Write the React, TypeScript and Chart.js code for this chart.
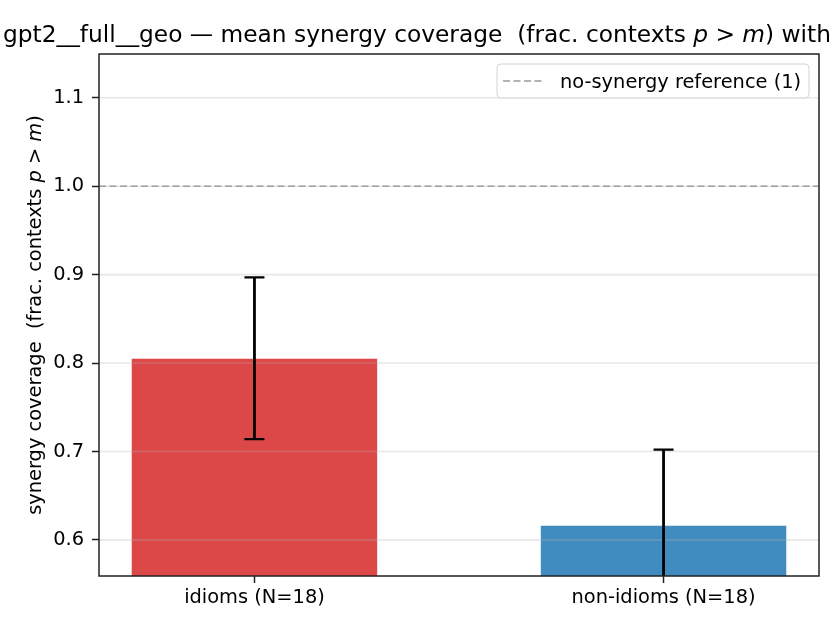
import { useEffect, useRef } from "react";
import { Chart, registerables } from "chart.js";

Chart.register(...registerables);

const categories = ["idioms (N=18)", "non-idioms (N=18)"];
const means = [0.805, 0.616];
const ciLow = [0.714, 0.53];
const ciHigh = [0.897, 0.702];
const barColors = ["rgba(214,39,40,0.85)", "rgba(31,119,180,0.85)"];
const refValue = 1;
const refLabel = "no-synergy reference (1)";
const yTicks = [0.6, 0.7, 0.8, 0.9, 1.0, 1.1];
const xRange = [-0.38, 1.38];
const yRange = [0.5592, 1.1495];

const FONT = '"DejaVu Sans", "Liberation Sans", sans-serif';
const LABEL_PX = 19.4;
const TITLE_PX = 23.3;

type Seg = { t: string; it?: boolean };

const titleSegs: Seg[] = [
  { t: "gpt2__full__geo \u2014 mean synergy coverage  (frac. contexts " },
  { t: "p", it: true },
  { t: " > " },
  { t: "m", it: true },
  { t: ") with 95% CI" },
];

const yLabelSegs: Seg[] = [
  { t: "synergy coverage  (frac. contexts " },
  { t: "p", it: true },
  { t: " > " },
  { t: "m", it: true },
  { t: ")" },
];

function richWidth(ctx: CanvasRenderingContext2D, segs: Seg[], px: number) {
  let w = 0;
  for (const s of segs) {
    ctx.font = `${s.it ? "italic " : ""}${px}px ${FONT}`;
    w += ctx.measureText(s.t).width;
  }
  return w;
}

function drawRich(ctx: CanvasRenderingContext2D, segs: Seg[], x: number, y: number, px: number) {
  let cx = x;
  for (const s of segs) {
    ctx.font = `${s.it ? "italic " : ""}${px}px ${FONT}`;
    ctx.fillText(s.t, cx, y);
    cx += ctx.measureText(s.t).width;
  }
}

export default function App() {
  const canvasRef = useRef<HTMLCanvasElement | null>(null);

  useEffect(() => {
    document.body.style.margin = "0";
    if (!canvasRef.current) return;

    const overlay = {
      id: "overlay",
      afterDatasetsDraw(chart: any) {
        const { ctx, chartArea: a, scales } = chart;
        const x = scales.x;
        const y = scales.y;

        ctx.save();
        ctx.beginPath();
        ctx.rect(a.left, a.top, a.right - a.left, a.bottom - a.top);
        ctx.clip();

        // grid on top of the bars, like the original
        ctx.strokeStyle = "rgba(176,176,176,0.3)";
        ctx.lineWidth = 1.6;
        yTicks.forEach((v) => {
          const py = y.getPixelForValue(v);
          ctx.beginPath();
          ctx.moveTo(a.left, py);
          ctx.lineTo(a.right, py);
          ctx.stroke();
        });

        // error bars
        ctx.strokeStyle = "#000";
        means.forEach((_, i) => {
          const px = x.getPixelForValue(i);
          const lo = y.getPixelForValue(ciLow[i]);
          const hi = y.getPixelForValue(ciHigh[i]);
          ctx.lineWidth = 2.8;
          ctx.beginPath();
          ctx.moveTo(px, lo);
          ctx.lineTo(px, hi);
          ctx.stroke();
          ctx.lineWidth = 2.2;
          ctx.beginPath();
          ctx.moveTo(px - 10, hi);
          ctx.lineTo(px + 10, hi);
          ctx.moveTo(px - 10, lo);
          ctx.lineTo(px + 10, lo);
          ctx.stroke();
        });
        ctx.restore();
      },
      afterDraw(chart: any) {
        const { ctx, chartArea: a } = chart;
        ctx.save();

        // spines
        ctx.strokeStyle = "#222";
        ctx.lineWidth = 1.5;
        ctx.strokeRect(a.left, a.top, a.right - a.left, a.bottom - a.top);

        // legend
        const lx = 497, ly = 64, lw = 312, lh = 34;
        ctx.beginPath();
        ctx.roundRect(lx, ly, lw, lh, 4);
        ctx.fillStyle = "rgba(255,255,255,0.8)";
        ctx.fill();
        ctx.strokeStyle = "#d4d4d4";
        ctx.lineWidth = 1;
        ctx.stroke();
        ctx.setLineDash([7, 3.5]);
        ctx.strokeStyle = "#9a9a9a";
        ctx.lineWidth = 1.6;
        ctx.beginPath();
        ctx.moveTo(503, 81);
        ctx.lineTo(542, 81);
        ctx.stroke();
        ctx.setLineDash([]);
        ctx.fillStyle = "#000";
        ctx.textBaseline = "alphabetic";
        ctx.textAlign = "left";
        ctx.font = `${LABEL_PX}px ${FONT}`;
        ctx.fillText(refLabel, 560, 87.5);

        // title
        drawRich(ctx, titleSegs, 3, 42, TITLE_PX);

        // y label
        const w = richWidth(ctx, yLabelSegs, LABEL_PX);
        ctx.translate(40.5, (a.top + a.bottom) / 2);
        ctx.rotate(-Math.PI / 2);
        drawRich(ctx, yLabelSegs, -w / 2, 0, LABEL_PX);
        ctx.restore();
      },
    };

    const chart = new Chart(canvasRef.current, {
      type: "bar",
      data: {
        datasets: [
          {
            type: "bar",
            data: means.map((v, i) => ({ x: i, y: v })),
            backgroundColor: barColors,
            borderWidth: 0,
            barPercentage: 0.6,
            categoryPercentage: 1,
          },
          {
            type: "line",
            data: xRange.map((xv) => ({ x: xv, y: refValue })),
            borderColor: "#9a9a9a",
            borderWidth: 1.6,
            borderDash: [7, 3.5],
            pointRadius: 0,
            fill: false,
          },
        ] as any,
      },
      options: {
        animation: false,
        responsive: true,
        maintainAspectRatio: false,
        layout: { padding: { top: 54, right: 21, left: 0, bottom: 0 } },
        plugins: {
          legend: { display: false },
          tooltip: { enabled: false },
          title: { display: false },
        },
        scales: {
          x: {
            type: "linear",
            offset: false,
            min: xRange[0],
            max: xRange[1],
            afterBuildTicks: (s: any) => {
              s.ticks = categories.map((_, i) => ({ value: i }));
            },
            afterFit: (s: any) => {
              s.height = 54;
            },
            ticks: {
              callback: (v: any) => categories[Math.round(Number(v))] ?? "",
              autoSkip: false,
              maxRotation: 0,
              padding: 3,
              color: "#000",
              font: { family: FONT, size: LABEL_PX },
            },
            grid: {
              offset: false,
              drawOnChartArea: false,
              drawTicks: true,
              tickLength: 7,
              tickColor: "#222",
              tickWidth: 1.5,
            },
            border: { display: false },
          },
          y: {
            type: "linear",
            min: yRange[0],
            max: yRange[1],
            afterBuildTicks: (s: any) => {
              s.ticks = yTicks.map((v) => ({ value: v }));
            },
            afterFit: (s: any) => {
              s.width = 99;
            },
            ticks: {
              callback: (v: any) => Number(v).toFixed(1),
              padding: 8,
              color: "#000",
              font: { family: FONT, size: LABEL_PX },
            },
            grid: {
              drawOnChartArea: false,
              drawTicks: true,
              tickLength: 7,
              tickColor: "#222",
              tickWidth: 1.5,
            },
            border: { display: false },
          },
        },
      },
      plugins: [overlay],
    });

    return () => chart.destroy();
  }, []);

  return (
    <div style={{ width: 840, height: 630, position: "relative", background: "#fff" }}>
      <canvas ref={canvasRef} />
    </div>
  );
}
